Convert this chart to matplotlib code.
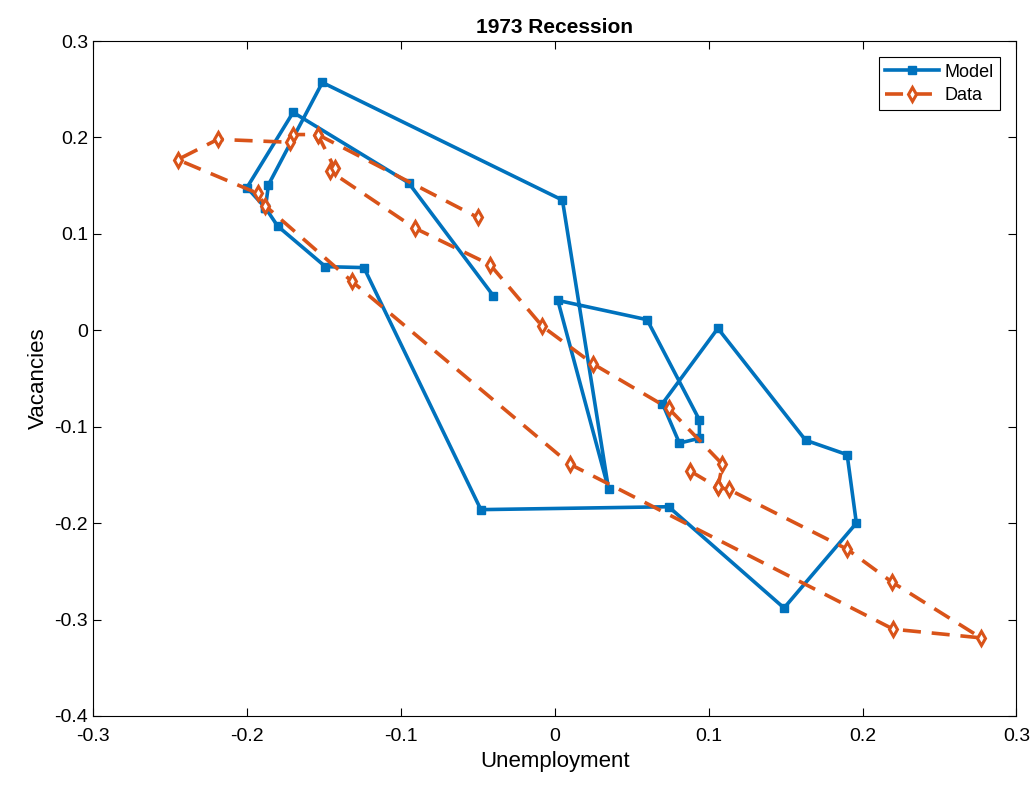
import numpy as np
import matplotlib.pyplot as plt

plt.rcParams['font.family'] = ['Liberation Sans', 'DejaVu Sans']

model_u = [-0.040, -0.095, -0.170, -0.200, -0.188, -0.180, -0.149, -0.124, -0.048,
           0.074, 0.149, 0.196, 0.190, 0.163, 0.106, 0.070, 0.081, 0.094, 0.094,
           0.060, 0.002, 0.035, 0.005, -0.151, -0.186, -0.188]
model_v = [0.036, 0.153, 0.226, 0.148, 0.127, 0.108, 0.066, 0.065, -0.186,
           -0.183, -0.288, -0.200, -0.129, -0.114, 0.002, -0.076, -0.117, -0.112, -0.093,
           0.011, 0.031, -0.165, 0.135, 0.257, 0.151, 0.127]

# NaN splits the data path where it branches
data_u = [0.088, 0.106, 0.109, 0.074, 0.025, -0.008, -0.042, -0.091, -0.146, -0.143,
          -0.154, -0.170, -0.172, -0.219, -0.245, -0.193, -0.188, -0.132, 0.010,
          0.220, 0.277, 0.219, 0.190, 0.113, 0.106, np.nan, -0.154, -0.050]
data_v = [-0.146, -0.163, -0.139, -0.081, -0.035, 0.004, 0.068, 0.106, 0.165, 0.168,
          0.203, 0.203, 0.195, 0.198, 0.177, 0.142, 0.129, 0.051, -0.139,
          -0.310, -0.319, -0.261, -0.227, -0.165, -0.163, np.nan, 0.203, 0.117]

fig = plt.figure(figsize=(10.34, 7.95), dpi=100)
ax = fig.add_axes([0.09, 0.0994, 0.893, 0.849])

ax.plot(model_u, model_v, '-s', color='#0072BD', lw=2.6, ms=6, label='Model')
ax.plot(data_u, data_v, '--d', color='#D95319', lw=2.6, ms=7, mfc='white', mew=2.2,
        dashes=(5, 3), label='Data')

ax.set_xlim(-0.3, 0.3)
ax.set_ylim(-0.4, 0.3)
ax.set_xticks([-0.3, -0.2, -0.1, 0, 0.1, 0.2, 0.3])
ax.set_xticklabels(['-0.3', '-0.2', '-0.1', '0', '0.1', '0.2', '0.3'])
ax.set_yticks([-0.4, -0.3, -0.2, -0.1, 0, 0.1, 0.2, 0.3])
ax.set_yticklabels(['-0.4', '-0.3', '-0.2', '-0.1', '0', '0.1', '0.2', '0.3'])
ax.tick_params(direction='in', top=True, right=True, labelsize=14, length=6)
ax.tick_params(axis='x', pad=9)
ax.set_xlabel('Unemployment', fontsize=16, labelpad=4)
ax.set_ylabel('Vacancies', fontsize=16)
ax.set_title('1973 Recession', fontsize=15, fontweight='bold', pad=6)
leg = ax.legend(loc='upper right', fontsize=13, fancybox=False, framealpha=1,
                edgecolor='black', handlelength=3.0, handletextpad=0.3,
                borderaxespad=0.9, borderpad=0.35, labelspacing=0.35)
leg.get_frame().set_linewidth(0.8)

fig.savefig('out.png', dpi=100)
